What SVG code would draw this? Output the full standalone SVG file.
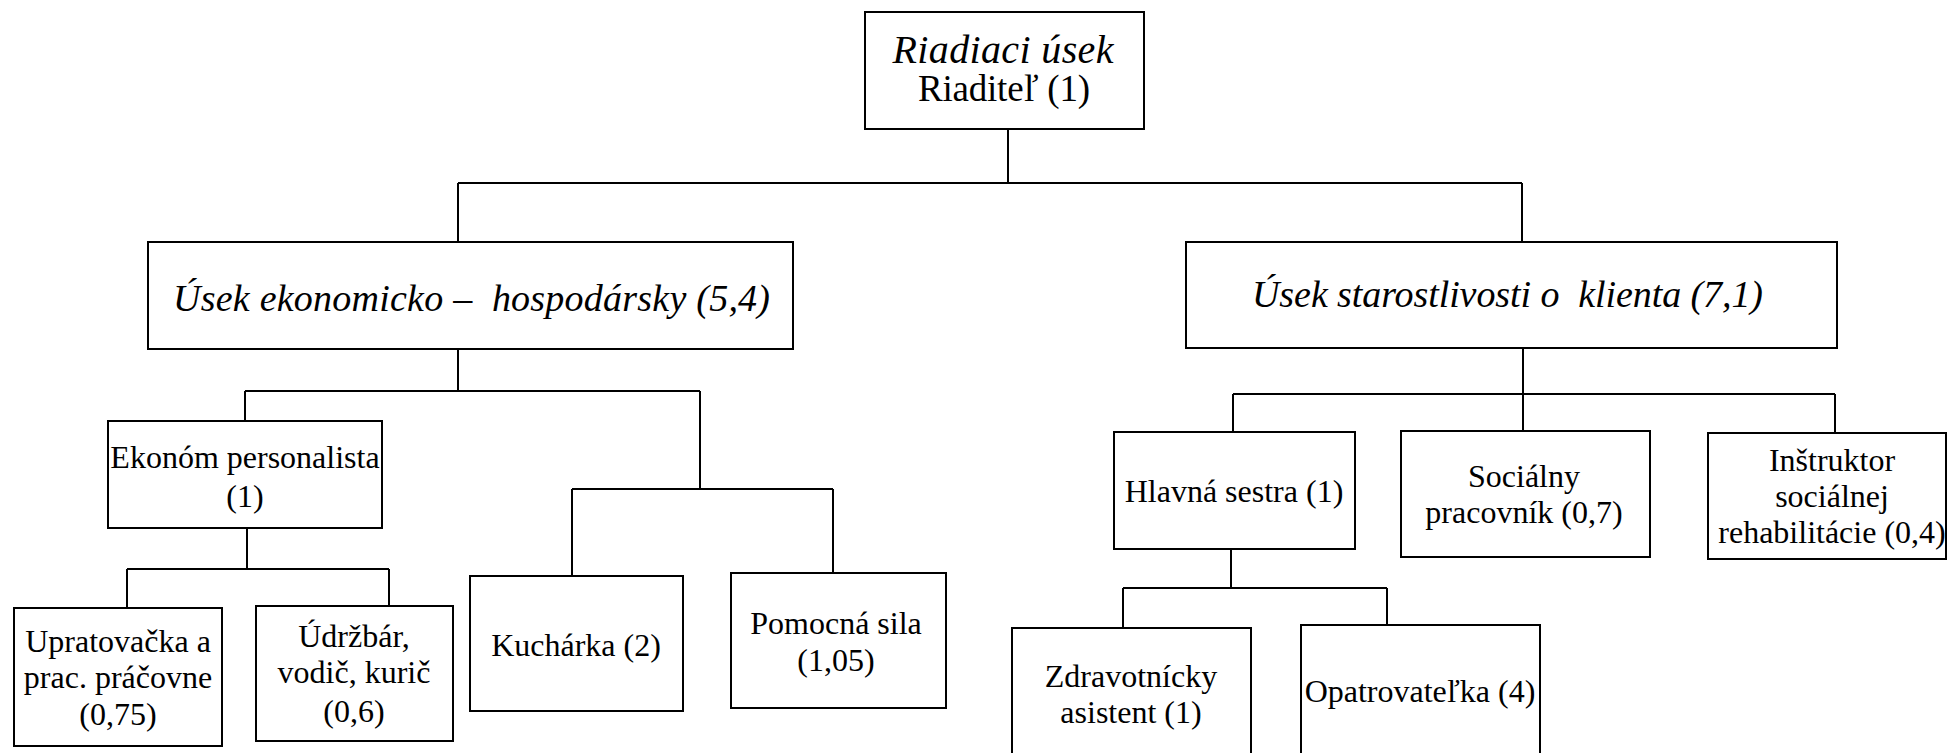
<svg xmlns="http://www.w3.org/2000/svg" width="1949" height="753" viewBox="0 0 1949 753">
<style>
  .box { fill: #ffffff; stroke: #000000; stroke-width: 2; }
  .con { fill: none; stroke: #000000; stroke-width: 2; }
  text { fill: #000000; text-anchor: middle; }
</style>
<rect x="0" y="0" width="1949" height="753" fill="#ffffff"/>

<g id="connectors">
  <path class="con" d="M1008 129 V183 M458 183 H1522 M458 183 V242 M1522 183 V242"/>
  <path class="con" d="M458 349 V391 M245 391 H700 M245 391 V421 M700 391 V489 M572 489 H833 M572 489 V576 M833 489 V573"/>
  <path class="con" d="M247 528 V569 M127 569 H389 M127 569 V608 M389 569 V606"/>
  <path class="con" d="M1523 348 V431 M1233 394 H1835 M1233 394 V432 M1835 394 V433"/>
  <path class="con" d="M1231 549 V588 M1123 588 H1387 M1123 588 V628 M1387 588 V625"/>
</g>

<g font-family="Liberation Serif, DejaVu Serif, serif" font-size="32">
<g id="riaditel">
  <rect class="box" x="865" y="12" width="279" height="117"/>
  <text x="1003" y="63" font-size="40" font-style="italic" textLength="221">Riadiaci úsek</text>
  <text x="1004" y="101" font-size="37" textLength="172">Riaditeľ (1)</text>
</g>

<g id="usek-ekonomicky">
  <rect class="box" x="148" y="242" width="645" height="107"/>
  <text x="471.5" y="311" font-size="38" font-style="italic" textLength="597" xml:space="preserve">Úsek ekonomicko –  hospodársky (5,4)</text>
</g>

<g id="usek-starostlivosti">
  <rect class="box" x="1186" y="242" width="651" height="106"/>
  <text x="1507.5" y="307" font-size="38" font-style="italic" textLength="511" xml:space="preserve">Úsek starostlivosti o  klienta (7,1)</text>
</g>

<g id="ekonom">
  <rect class="box" x="108" y="421" width="274" height="107"/>
  <text x="245" y="468">Ekonóm personalista</text>
  <text x="245" y="507">(1)</text>
</g>

<g id="upratovacka">
  <rect class="box" x="14" y="608" width="208" height="138"/>
  <text x="118" y="652">Upratovačka a</text>
  <text x="118" y="688">prac. práčovne</text>
  <text x="118" y="725">(0,75)</text>
</g>

<g id="udrzbar">
  <rect class="box" x="256" y="606" width="197" height="135"/>
  <text x="354" y="647">Údržbár,</text>
  <text x="354" y="683">vodič, kurič</text>
  <text x="354" y="722">(0,6)</text>
</g>

<g id="kucharka">
  <rect class="box" x="470" y="576" width="213" height="135"/>
  <text x="576" y="656">Kuchárka (2)</text>
</g>

<g id="pomocna-sila">
  <rect class="box" x="731" y="573" width="215" height="135"/>
  <text x="836" y="634">Pomocná sila</text>
  <text x="836" y="671">(1,05)</text>
</g>

<g id="hlavna-sestra">
  <rect class="box" x="1114" y="432" width="241" height="117"/>
  <text x="1234" y="502">Hlavná sestra (1)</text>
</g>

<g id="zdravotnicky-asistent">
  <rect class="box" x="1012" y="628" width="239" height="140"/>
  <text x="1131" y="687">Zdravotnícky</text>
  <text x="1131" y="723">asistent (1)</text>
</g>

<g id="opatrovatelka">
  <rect class="box" x="1301" y="625" width="239" height="143"/>
  <text x="1420" y="702">Opatrovateľka (4)</text>
</g>

<g id="socialny-pracovnik">
  <rect class="box" x="1401" y="431" width="249" height="126"/>
  <text x="1524" y="487">Sociálny</text>
  <text x="1524" y="523">pracovník (0,7)</text>
</g>

<g id="instruktor">
  <rect class="box" x="1708" y="433" width="238" height="126"/>
  <text x="1832" y="471">Inštruktor</text>
  <text x="1832" y="507">sociálnej</text>
  <text x="1832" y="543">rehabilitácie (0,4)</text>
</g>
</g>
</svg>
